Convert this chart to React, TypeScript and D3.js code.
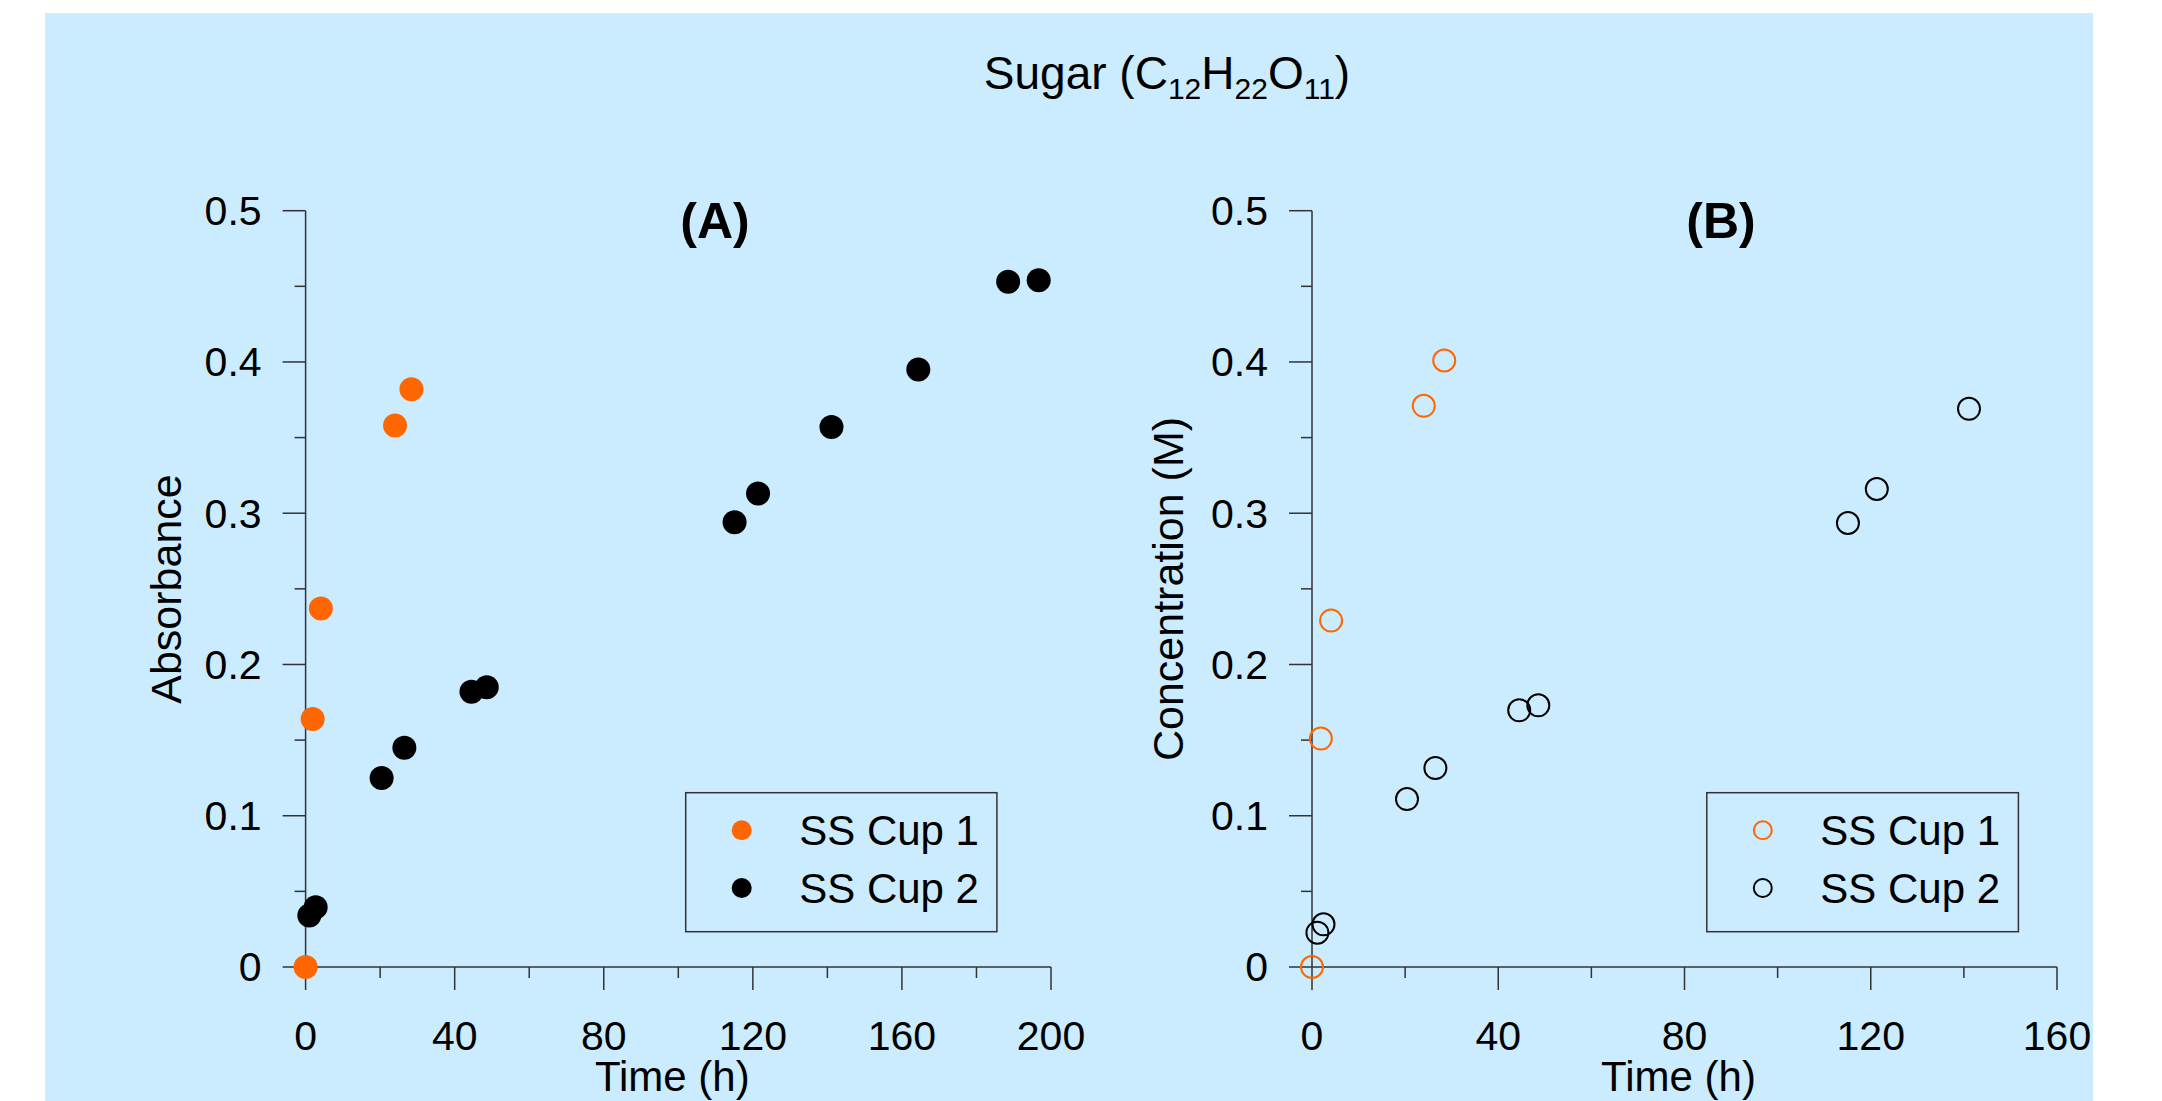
import React from "react";
import * as d3 from "d3";

// ---- Data ----
const cup1Time = [0, 1.9, 4.1, 24.0, 28.4];
const cup1Absorbance = [0, 0.164, 0.237, 0.358, 0.382];
const cup1Concentration = [0, 0.151, 0.229, 0.371, 0.401];

const cup2TimeA = [1.0, 2.7, 20.4, 26.5, 44.5, 48.6, 115.1, 121.4, 141.1, 164.4, 188.5, 196.7];
const cup2Absorbance = [0.034, 0.0395, 0.125, 0.145, 0.182, 0.185, 0.294, 0.313, 0.357, 0.395, 0.453, 0.454];

const cup2TimeB = [1.16, 2.47, 20.4, 26.5, 44.5, 48.6, 115.1, 121.3, 141.1];
const cup2Concentration = [0.0227, 0.0282, 0.111, 0.1315, 0.1697, 0.173, 0.2935, 0.316, 0.369];

const seriesNames = ["SS Cup 1", "SS Cup 2"];
const seriesColors = ["#ff6600", "#000000"];

const yTicks = [0, 0.1, 0.2, 0.3, 0.4, 0.5];
const yMinorTicks = [0.05, 0.15, 0.25, 0.35, 0.45];
const xTicksA = [0, 40, 80, 120, 160, 200];
const xMinorTicksA = [20, 60, 100, 140, 180];
const xTicksB = [0, 40, 80, 120, 160];
const xMinorTicksB = [20, 60, 100, 140];

const W = 2162;
const H = 1101;
const FONT = "'Liberation Sans', Arial, Helvetica, sans-serif";
const AXIS = "#333";

type PanelProps = {
  x0: number;
  x1: number;
  xMax: number;
  xTicks: number[];
  xMinor: number[];
  yLabel: string;
  yLabelX: number;
  panelLabel: string;
  labelX: number;
  filled: boolean;
  s1x: number[];
  s1y: number[];
  s2x: number[];
  s2y: number[];
  legendX: number;
  legendW: number;
};

function Panel(p: PanelProps) {
  const x = d3.scaleLinear().domain([0, p.xMax]).range([p.x0, p.x1]);
  const y = d3.scaleLinear().domain([0, 0.5]).range([967, 210.7]);
  const yFmt = (v: number) => (v === 0 ? "0" : d3.format(".1f")(v));
  const r = 12;
  const legY = 792.7;
  const legH = 139;
  const series = [
    { xs: p.s1x, ys: p.s1y, color: seriesColors[0] },
    { xs: p.s2x, ys: p.s2y, color: seriesColors[1] },
  ];
  const mark = (cx: number, cy: number, rad: number, color: string, key: string) =>
    p.filled ? (
      <circle key={key} cx={cx} cy={cy} r={rad} fill={color} />
    ) : (
      <circle key={key} cx={cx} cy={cy} r={rad - 1} fill="none" stroke={color} strokeWidth={2} />
    );
  return (
    <g fontFamily={FONT}>
      {/* axes lines */}
      <line x1={p.x0} x2={p.x1} y1={y(0)} y2={y(0)} stroke={AXIS} strokeWidth={1.5} />
      <line x1={p.x0} x2={p.x0} y1={y(0)} y2={y(0.5)} stroke={AXIS} strokeWidth={1.5} />
      {/* y ticks */}
      {yTicks.map((t) => (
        <g key={"yt" + t}>
          <line x1={p.x0 - 23} x2={p.x0} y1={y(t)} y2={y(t)} stroke={AXIS} strokeWidth={1.5} />
          <text x={p.x0 - 44} y={y(t)} dy="0.35em" textAnchor="end" fontSize={41} fill="#000">
            {yFmt(t)}
          </text>
        </g>
      ))}
      {yMinorTicks.map((t) => (
        <line key={"ym" + t} x1={p.x0 - 11} x2={p.x0} y1={y(t)} y2={y(t)} stroke={AXIS} strokeWidth={1.5} />
      ))}
      {/* x ticks */}
      {p.xTicks.map((t) => (
        <g key={"xt" + t}>
          <line x1={x(t)} x2={x(t)} y1={y(0)} y2={y(0) + 23} stroke={AXIS} strokeWidth={1.5} />
          <text x={x(t)} y={1050} textAnchor="middle" fontSize={41} fill="#000">
            {t}
          </text>
        </g>
      ))}
      {p.xMinor.map((t) => (
        <line key={"xm" + t} x1={x(t)} x2={x(t)} y1={y(0)} y2={y(0) + 11} stroke={AXIS} strokeWidth={1.5} />
      ))}
      {/* axis titles */}
      <text x={(p.x0 + p.x1) / 2 - 6} y={1091} textAnchor="middle" fontSize={42} fill="#000">
        Time (h)
      </text>
      <text
        transform={`translate(${p.yLabelX},${589}) rotate(-90)`}
        textAnchor="middle"
        fontSize={43}
        fill="#000"
      >
        {p.yLabel}
      </text>
      {/* panel label */}
      <text x={p.labelX} y={238} textAnchor="middle" fontSize={50} fontWeight="bold" fill="#000">
        {p.panelLabel}
      </text>
      {/* points */}
      {series.map((s, si) =>
        s.xs.map((xv, i) => mark(x(xv), y(s.ys[i]), r, s.color, `p${si}-${i}`))
      )}
      {/* legend */}
      <rect x={p.legendX} y={legY} width={p.legendW} height={legH} fill="none" stroke={AXIS} strokeWidth={1.5} />
      {seriesNames.map((name, i) => (
        <g key={"lg" + i}>
          {mark(p.legendX + 56, 830.3 + i * 57.7, 10, seriesColors[i], "lm" + i)}
          <text x={p.legendX + 113.5} y={845 + i * 57.7} fontSize={42} fill="#000">
            {name}
          </text>
        </g>
      ))}
    </g>
  );
}

export default function App() {
  return (
    <svg
      width={W}
      height={H}
      viewBox={`0 0 ${W} ${H}`}
      style={{ position: "absolute", left: 0, top: 0, display: "block" }}
    >
      <rect x={0} y={0} width={W} height={H} fill="#ffffff" />
      <rect x={45} y={13} width={2093 - 45} height={H - 13} fill="#cbebfe" />
      <text x={1167} y={89} textAnchor="middle" fontSize={46} fontFamily={FONT} fill="#000">
        Sugar (C
        <tspan fontSize={30} dy={10}>12</tspan>
        <tspan dy={-10}>H</tspan>
        <tspan fontSize={30} dy={10}>22</tspan>
        <tspan dy={-10}>O</tspan>
        <tspan fontSize={30} dy={10}>11</tspan>
        <tspan dy={-10}>)</tspan>
      </text>
      <Panel
        x0={305.6}
        x1={1051}
        xMax={200}
        xTicks={xTicksA}
        xMinor={xMinorTicksA}
        yLabel="Absorbance"
        yLabelX={181}
        panelLabel="(A)"
        labelX={715}
        filled={true}
        s1x={cup1Time}
        s1y={cup1Absorbance}
        s2x={cup2TimeA}
        s2y={cup2Absorbance}
        legendX={685.7}
        legendW={311.2}
      />
      <Panel
        x0={1312}
        x1={2057}
        xMax={160}
        xTicks={xTicksB}
        xMinor={xMinorTicksB}
        yLabel="Concentration (M)"
        yLabelX={1183}
        panelLabel="(B)"
        labelX={1721}
        filled={false}
        s1x={cup1Time}
        s1y={cup1Concentration}
        s2x={cup2TimeB}
        s2y={cup2Concentration}
        legendX={1706.8}
        legendW={311.6}
      />
    </svg>
  );
}
